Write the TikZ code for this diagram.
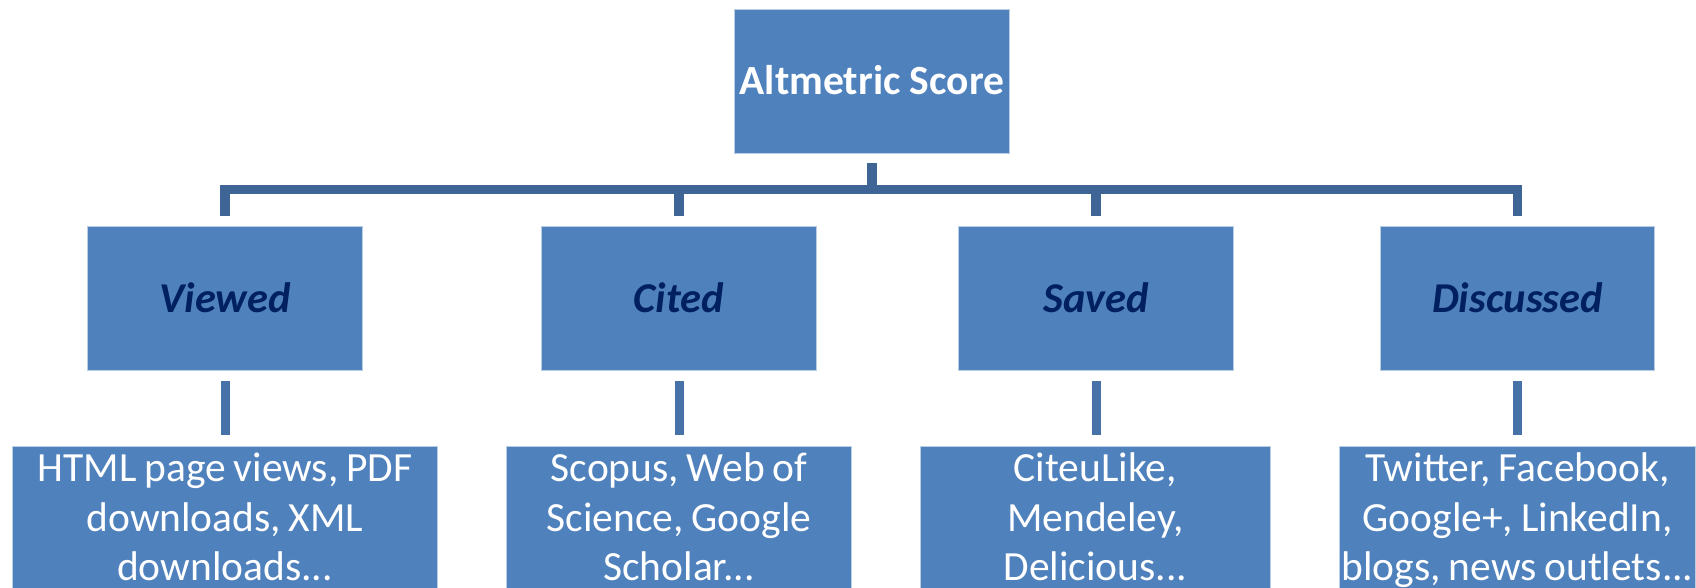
\documentclass[tikz,border=0pt]{standalone}
\usepackage{fontspec}
\setmainfont{Carlito}
\definecolor{boxfill}{RGB}{79,129,189}
\definecolor{boxedge}{RGB}{185,205,229}
\definecolor{barblue}{RGB}{63,100,150}
\definecolor{stubblue}{RGB}{70,114,168}
\definecolor{navy}{RGB}{0,32,96}
\newcommand\myleaffont{\fontsize{41.5}{49.5}\selectfont\spaceskip=0.19em plus 0.05em minus 0.02em\relax}
\begin{document}
\begin{tikzpicture}[x=1pt,y=1pt,
  boxbase/.style={rectangle, fill=boxfill, draw=boxedge, line width=0.9pt, inner sep=0pt},
  rootbox/.style={boxbase, minimum width=274.6pt, minimum height=144pt, text=white,
    font=\fontsize{41.5}{50}\selectfont\bfseries, text height=28pt, text depth=0pt},
  midbox/.style={boxbase, minimum width=274.6pt, minimum height=143.6pt, text=navy,
    font=\fontsize{42.5}{50}\selectfont\bfseries\itshape, text height=28.5pt, text depth=0pt},
  leafbox/.style={boxbase, anchor=north, text=white, align=center, font=\myleaffont},
  barline/.style={draw=barblue, line width=9.3pt, line join=miter},
  stubline/.style={draw=stubblue, line width=9pt}
]
\useasboundingbox (0,0) rectangle (1696,587);
\clip (0,0) rectangle (1696,587);

\node[rootbox] (root) at (872,506) {Altmetric Score};

\node[midbox] (v) at (225,288.5) {Viewed};
\node[midbox] (c) at (679,288.5) {Cited};
\node[midbox] (s) at (1096,288.5) {Saved};
\node[midbox] (d) at (1517.5,288.5) {Discussed};

\node[leafbox, minimum width=425.4pt] (v2) at (225,141.3)
  {\rule{0pt}{35.5pt}HTML page views, PDF\\downloads, XML\\downloads...\rule[-40pt]{0pt}{0pt}};
\node[leafbox, minimum width=344.6pt] (c2) at (679,141.3)
  {\rule{0pt}{35.5pt}Scopus, Web of\\Science, Google\\Scholar...\rule[-40pt]{0pt}{0pt}};
\node[leafbox, minimum width=350pt] (s2) at (1095.3,141.3)
  {\rule{0pt}{35.5pt}CiteuLike,\\Mendeley,\\Delicious...\rule[-40pt]{0pt}{0pt}};
\node[leafbox, minimum width=356.4pt] (d2) at (1517.5,141.3)
  {\rule{0pt}{35.5pt}Twitter, Facebook,\\Google+, LinkedIn,\\blogs, news outlets...\rule[-40pt]{0pt}{0pt}};

\coordinate (barmid) at (872,397.6);

% top stub
\draw[barline] ([yshift=-10pt]root.south) -- (root.south |- barmid);
% horizontal bar with end stubs
\draw[barline] ([yshift=10.5pt]v.north) -- (v.north |- barmid) -- (d.north |- barmid) -- ([yshift=10.5pt]d.north);
\draw[barline] ([yshift=10.5pt]c.north) -- (c.north |- barmid);
\draw[barline] ([yshift=10.5pt]s.north) -- (s.north |- barmid);

% lower stubs
\foreach \a/\b in {v/v2,c/c2,s/s2,d/d2}{
  \draw[stubline] ([yshift=-10.5pt]\a.south) -- ([yshift=10.5pt]\a.south |- \b.north);
}
\end{tikzpicture}
\end{document}
